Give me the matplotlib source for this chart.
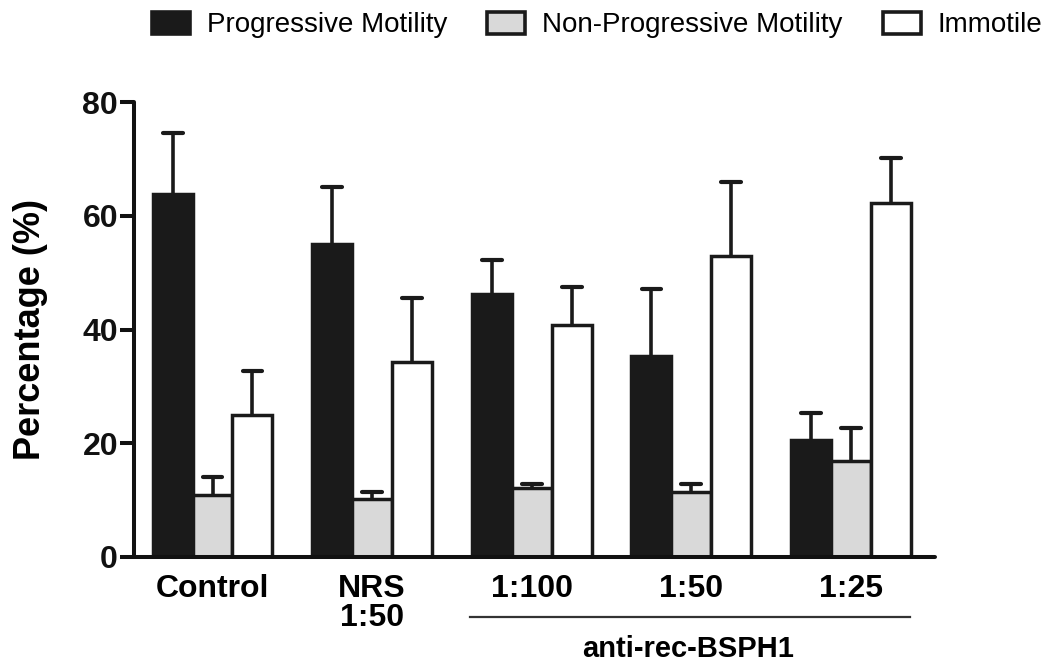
import matplotlib
matplotlib.use("Agg")
import matplotlib.pyplot as plt
from matplotlib import font_manager
from matplotlib.patches import Patch
import numpy as np

# ---- data ----
groups = ["Control", "NRS\n1:50", "1:100", "1:50", "1:25"]
series = ["Progressive Motility", "Non-Progressive Motility", "Immotile"]
progressive = [63.9, 55.0, 46.3, 35.3, 20.6]
progressive_err = [10.7, 10.0, 6.0, 11.9, 4.8]
non_progressive = [10.9, 10.2, 12.2, 11.4, 16.9]
non_progressive_err = [3.1, 1.2, 0.7, 1.5, 5.7]
immotile = [25.0, 34.3, 40.8, 52.9, 62.3]
immotile_err = [7.7, 11.2, 6.6, 13.1, 7.9]
y_ticks = [0, 20, 40, 60, 80]
bracket_label = "anti-rec-BSPH1"

colors = ["#1a1a1a", "#d9d9d9", "#ffffff"]
edge = "#1a1a1a"

names = {f.name for f in font_manager.fontManager.ttflist}
base_font = "Liberation Sans" if "Liberation Sans" in names else "DejaVu Sans"
if "Liberation Sans Narrow" in names:
    legend_font, legend_size = "Liberation Sans Narrow", 24
else:
    legend_font, legend_size = base_font, 20
plt.rcParams["font.family"] = [base_font, "DejaVu Sans"]

fig = plt.figure(figsize=(10.59, 6.63), dpi=100)
ax = fig.add_axes([134 / 1059, 1 - 557 / 663, 801 / 1059, 455 / 663])

x = np.arange(len(groups))
w = 0.25
cap_half = 0.062
vals = [np.array(progressive), np.array(non_progressive), np.array(immotile)]
errs = [np.array(progressive_err), np.array(non_progressive_err), np.array(immotile_err)]
for i, (v, e) in enumerate(zip(vals, errs)):
    pos = x + (i - 1) * w
    ax.bar(pos, v, width=w, color=colors[i], edgecolor=edge, linewidth=2.5, zorder=2)
    ax.vlines(pos, v, v + e, color=edge, linewidth=2.6, zorder=3)
    ax.hlines(v + e, pos - cap_half, pos + cap_half, color=edge, linewidth=3.0,
              capstyle="round", zorder=3)

ax.set_xlim(-0.492, 4.527)
ax.set_ylim(0, 80)
ax.set_yticks(y_ticks)
ax.set_yticklabels([str(t) for t in y_ticks], fontsize=23, fontweight="bold")
ax.set_xticks(x)
ax.set_xticklabels(groups, fontsize=23, fontweight="bold", linespacing=0.95)
ax.tick_params(axis="x", length=0, pad=12)
ax.tick_params(axis="y", length=10, width=2.9, pad=1.5, colors="#111111")
for s in ["top", "right"]:
    ax.spines[s].set_visible(False)
for s in ["left", "bottom"]:
    ax.spines[s].set_linewidth(2.9)
    ax.spines[s].set_color("#111111")
    ax.spines[s].set_capstyle("round")

# bracket for anti-rec-BSPH1
trans = ax.get_xaxis_transform()
ax.plot([1.613, 4.370], [-0.132, -0.132], transform=trans, color="#333333",
        lw=1.6, clip_on=False)
ax.text(2.98, -0.2198, bracket_label, transform=trans, ha="center", va="baseline",
        fontsize=21, fontweight="bold")

fig.text(31 / 1059, 1 - 330 / 663, "Percentage (%)", rotation=90, ha="center",
         va="center", fontsize=26, fontweight="bold")

em = legend_size * 100 / 72.0
handles = [Patch(facecolor=colors[i], edgecolor=edge, linewidth=2.6, label=series[i])
           for i in range(3)]
fig.legend(handles=handles, loc="center left", bbox_to_anchor=(152 / 1059, 1 - 25 / 663),
           ncol=3, frameon=False, borderpad=0, borderaxespad=0,
           handlelength=38 / em, handleheight=24 / em, handletextpad=17 / em,
           columnspacing=40 / em,
           prop={"family": legend_font, "size": legend_size})

fig.savefig("out.png", dpi=100)
